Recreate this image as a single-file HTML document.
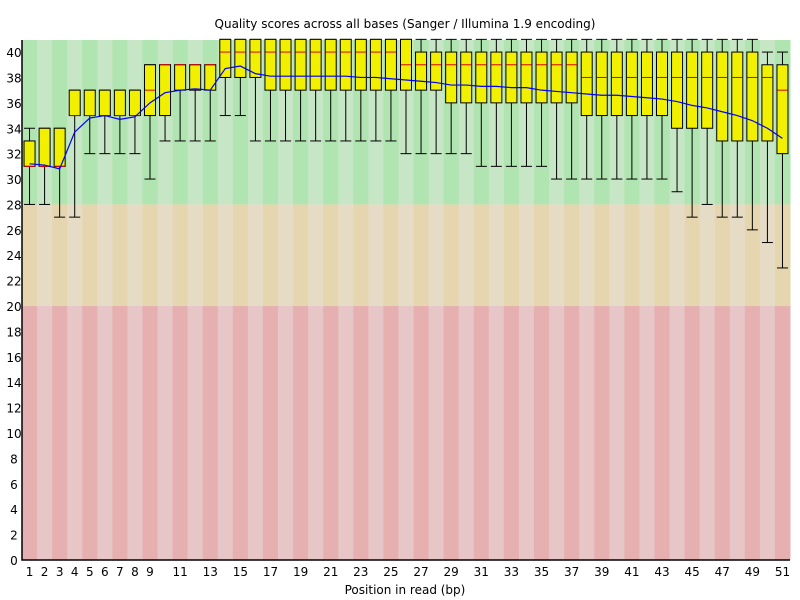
<!DOCTYPE html>
<html><head><meta charset="utf-8"><style>
body{margin:0;background:#fff}
svg{display:block;font-family:"DejaVu Sans","Liberation Sans",sans-serif}
</style></head><body>
<svg id="c" width="800" height="600">
<text x="405" y="28" font-size="12" text-anchor="middle">Quality scores across all bases (Sanger / Illumina 1.9 encoding)</text>
<text x="405" y="594" font-size="12" text-anchor="middle">Position in read (bp)</text>
</svg>
<script>
const positions=[1,2,3,4,5,6,7,8,9,10,11,12,13,14,15,16,17,18,19,20,21,22,23,24,25,26,27,28,29,30,31,32,33,34,35,36,37,38,39,40,41,42,43,44,45,46,47,48,49,50,51];
const lowerWhisker=[28,28,27,27,32,32,32,32,30,33,33,33,33,35,35,33,33,33,33,33,33,33,33,33,33,32,32,32,32,32,31,31,31,31,31,30,30,30,30,30,30,30,30,29,27,28,27,27,26,25,23];
const q1=[31,31,31,35,35,35,35,35,35,35,37,37,37,38,38,38,37,37,37,37,37,37,37,37,37,37,37,37,36,36,36,36,36,36,36,36,36,35,35,35,35,35,35,34,34,34,33,33,33,33,32];
const median=[31,31,31,35,35,35,35,35,37,39,39,39,39,40,40,40,40,40,40,40,40,40,40,40,40,39,39,39,39,39,39,39,39,39,39,39,39,38,38,38,38,38,38,38,38,38,38,38,38,38,37];
const q3=[33,34,34,37,37,37,37,37,39,39,39,39,39,41,41,41,41,41,41,41,41,41,41,41,41,41,40,40,40,40,40,40,40,40,40,40,40,40,40,40,40,40,40,40,40,40,40,40,40,39,39];
const upperWhisker=[34,34,34,37,37,37,37,37,39,39,39,39,39,41,41,41,41,41,41,41,41,41,41,41,41,41,41,41,41,41,41,41,41,41,41,41,41,41,41,41,41,41,41,41,41,41,41,41,41,40,40];
const meanQ=[31.2,31.1,30.8,33.7,34.8,35.0,34.7,34.9,36.0,36.8,37.0,37.1,37.0,38.7,38.9,38.3,38.1,38.1,38.1,38.1,38.1,38.1,38.0,38.0,37.9,37.8,37.7,37.6,37.4,37.4,37.3,37.3,37.2,37.2,37.0,36.9,36.8,36.7,36.6,36.6,36.5,36.4,36.3,36.1,35.8,35.6,35.3,35.0,34.6,34.0,33.2];
const yTicks=[0,2,4,6,8,10,12,14,16,18,20,22,24,26,28,30,32,34,36,38,40];
const xTickLabels=[1,2,3,4,5,6,7,8,9,11,13,15,17,19,21,23,25,27,29,31,33,35,37,39,41,43,45,47,49,51];

const NS='http://www.w3.org/2000/svg',svg=document.getElementById('c');
const L=22,R=790,T=40,B=560,YMAX=40.95;
const cw=(R-L)/positions.length;
const y=v=>B-v*(B-T)/YMAX;
const xc=i=>L+cw*(i+0.5);
function mk(t,a){const e=document.createElementNS(NS,t);for(const k in a)e.setAttribute(k,a[k]);svg.insertBefore(e,svg.querySelector('text'));return e;}
// background
positions.forEach((p,i)=>{
  const odd=i%2===0;
  const zones=[[28,YMAX,odd?'#b0e4b0':'#c6e6c6','good'],[20,28,odd?'#e6d6b0':'#e6dcc6','warn'],[0,20,odd?'#e6b0b0':'#e6c6c6','bad']];
  zones.forEach(z=>{
    const r=mk('rect',{x:L+cw*i,y:y(z[1]),width:cw+0.5,height:y(z[0])-y(z[1]),fill:z[2]});
    
    
  });
});
// boxes
positions.forEach((p,i)=>{
  const c=xc(i),hw=5.5;
  const g=mk('g',{});
  
  
  const add=(t,a)=>{const e=document.createElementNS(NS,t);for(const k in a)e.setAttribute(k,a[k]);g.appendChild(e);return e;};
  add('line',{x1:c,x2:c,y1:y(upperWhisker[i]),y2:y(lowerWhisker[i]),stroke:'#000'});
  add('line',{x1:c-hw,x2:c+hw,y1:y(upperWhisker[i]),y2:y(upperWhisker[i]),stroke:'#000'});
  add('line',{x1:c-hw,x2:c+hw,y1:y(lowerWhisker[i]),y2:y(lowerWhisker[i]),stroke:'#000'});
  add('rect',{x:c-hw,y:y(q3[i]),width:2*hw,height:y(q1[i])-y(q3[i]),fill:'#f0f000',stroke:'#000'});
  add('line',{x1:c-hw+0.5,x2:c+hw-0.5,y1:y(median[i]),y2:y(median[i]),stroke:'#e00000'});
});
// mean line
const ml=mk('polyline',{points:meanQ.map((v,i)=>xc(i)+','+y(v)).join(' '),fill:'none',stroke:'#0000ff','stroke-width':1.2});


// axes
const ax=mk('path',{d:`M${L},${T} V${B} H${R}`,stroke:'#000',fill:'none','stroke-width':1.5});


yTicks.forEach(v=>{
  const t=mk('text',{x:14,y:y(v)+5,'font-size':12,'text-anchor':'middle'});t.textContent=v;
  
  
});
xTickLabels.forEach(p=>{
  const t=mk('text',{x:xc(positions.indexOf(p)),y:576,'font-size':12,'text-anchor':'middle'});t.textContent=p;
  
  
});
</script>
</body></html>
